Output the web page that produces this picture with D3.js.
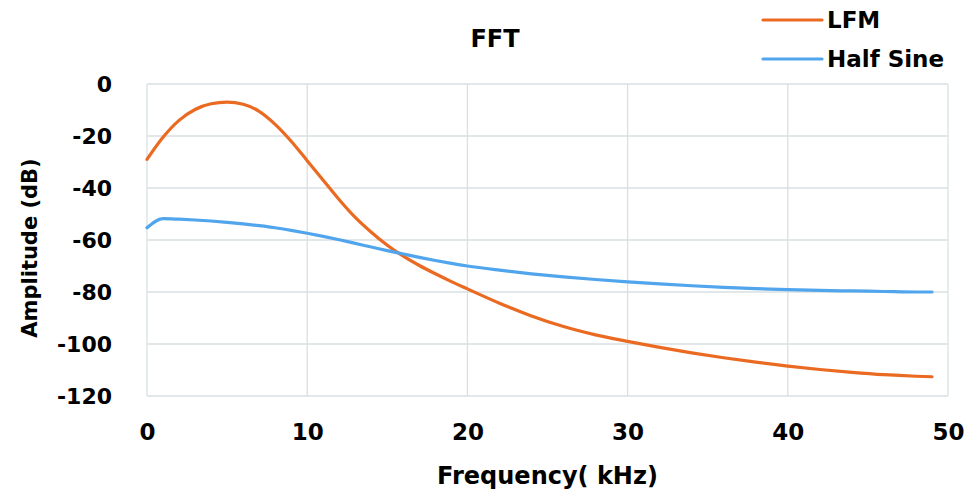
<!DOCTYPE html>
<html>

<head>
  <meta charset="utf-8">
  <title>FFT</title>
  <style type="text/css">
    body {
      margin: 0;
      background: #fff;
    }

    text {
      font-family: "DejaVu Sans", sans-serif;
      font-weight: bold;
      fill: #000;
    }
  </style>
</head>

<body>
  <div id="chart"></div>
  <script type="text/javascript" src="https://cdn.jsdelivr.net/npm/d3@7"></script>
  <script type="text/javascript">
    // frequency (kHz) sample points
    var freq = [0, 1, 2, 3, 4, 5, 6, 7, 8, 9, 10, 11, 12, 13, 14, 15, 16, 17, 18, 19, 20,
      22, 24, 26, 28, 30, 32, 34, 36, 38, 40, 42, 44, 46, 48, 49];

    // amplitude (dB)
    var lfm = [-29, -20.5, -14, -9.8, -7.6, -7, -7.8, -10.5, -15.5, -22, -29.5,
      -37, -44.5, -51.3, -57, -62, -66.2, -69.8, -73, -76, -78.8,
      -84.3, -89.2, -93.3, -96.5, -99, -101.3, -103.4, -105.3, -107, -108.5,
      -109.8, -110.9, -111.8, -112.4, -112.6];

    var halfSine = [-55.3, -51.8, -52, -52.3, -52.7, -53.2, -53.8, -54.5, -55.3, -56.3, -57.4,
      -58.6, -59.9, -61.3, -62.7, -64.1, -65.4, -66.7, -67.9, -69, -70,
      -71.6, -73, -74.2, -75.2, -76.1, -76.9, -77.6, -78.2, -78.7, -79.1,
      -79.4, -79.6, -79.8, -80, -80];

    var seriesNames = ["LFM", "Half Sine"];
    var seriesColors = ["#eb6a22", "#50a5ec"];
    var xTicks = [0, 10, 20, 30, 40, 50];
    var yTicks = [0, -20, -40, -60, -80, -100, -120];

    var W = 971, H = 491,
      m = { top: 84, right: 23, bottom: 95, left: 147 };

    var svg = d3.select("#chart").append("svg")
      .attr("width", W)
      .attr("height", H);

    var x = d3.scaleLinear().domain([0, 50]).range([m.left, W - m.right]);
    var y = d3.scaleLinear().domain([-120, 0]).range([H - m.bottom, m.top]);

    // grid
    svg.append("g").selectAll("line.h")
      .data(yTicks)
      .enter().append("line")
      .attr("x1", x(0)).attr("x2", x(50))
      .attr("y1", y).attr("y2", y)
      .attr("stroke", "#d9e0e2")
      .attr("stroke-width", 1.3);

    svg.append("g").selectAll("line.v")
      .data(xTicks)
      .enter().append("line")
      .attr("x1", x).attr("x2", x)
      .attr("y1", y(0)).attr("y2", y(-120))
      .attr("stroke", "#d9e0e2")
      .attr("stroke-width", 1.3);

    // axes (labels only)
    var xAxis = svg.append("g")
      .attr("transform", "translate(0," + y(-120) + ")")
      .call(d3.axisBottom(x).tickValues(xTicks).tickSize(0).tickPadding(0));
    xAxis.select(".domain").remove();
    xAxis.selectAll("text")
      .attr("dy", null)
      .attr("y", 44)
      .style("font-size", "23px");

    var yAxis = svg.append("g")
      .attr("transform", "translate(" + x(0) + ",0)")
      .call(d3.axisLeft(y).tickValues(yTicks).tickSize(0).tickPadding(0)
        .tickFormat(function (d) { return String(d); }));
    yAxis.select(".domain").remove();
    yAxis.selectAll("text")
      .attr("x", -35)
      .attr("dy", "0.36em")
      .style("font-size", "22px");
    svg.selectAll(".tick text").style("font-family", "'DejaVu Sans', sans-serif")
      .style("font-weight", "bold").attr("fill", "#000");

    // lines
    var data = [lfm, halfSine];
    var line = d3.line()
      .x(function (d, i) { return x(freq[i]); })
      .y(function (d) { return y(d); })
      .curve(d3.curveMonotoneX);

    svg.append("g").selectAll("path")
      .data(data)
      .enter().append("path")
      .attr("d", line)
      .attr("fill", "none")
      .attr("stroke", function (d, i) { return seriesColors[i]; })
      .attr("stroke-width", 3.2)
      .attr("stroke-linecap", "round");

    // titles
    svg.append("text")
      .attr("x", 495).attr("y", 47)
      .attr("text-anchor", "middle")
      .style("font-size", "24px")
      .text("FFT");

    svg.append("text")
      .attr("x", (x(0) + x(50)) / 2).attr("y", 484)
      .attr("text-anchor", "middle")
      .style("font-size", "24px")
      .text("Frequency( kHz)");

    svg.append("text")
      .attr("transform", "translate(37," + 248 + ") rotate(-90)")
      .attr("text-anchor", "middle")
      .style("font-size", "21px")
      .text("Amplitude (dB)");

    // legend
    var legend = svg.append("g").selectAll("g")
      .data(seriesNames)
      .enter().append("g")
      .attr("transform", function (d, i) { return "translate(763," + (20 + i * 39) + ")"; });

    legend.append("line")
      .attr("x1", 0).attr("x2", 59)
      .attr("stroke", function (d, i) { return seriesColors[i]; })
      .attr("stroke-width", 3.2)
      .attr("stroke-linecap", "round");

    legend.append("text")
      .attr("x", 64).attr("y", 8)
      .style("font-size", "23px")
      .text(function (d) { return d; });
  </script>
</body>

</html>
